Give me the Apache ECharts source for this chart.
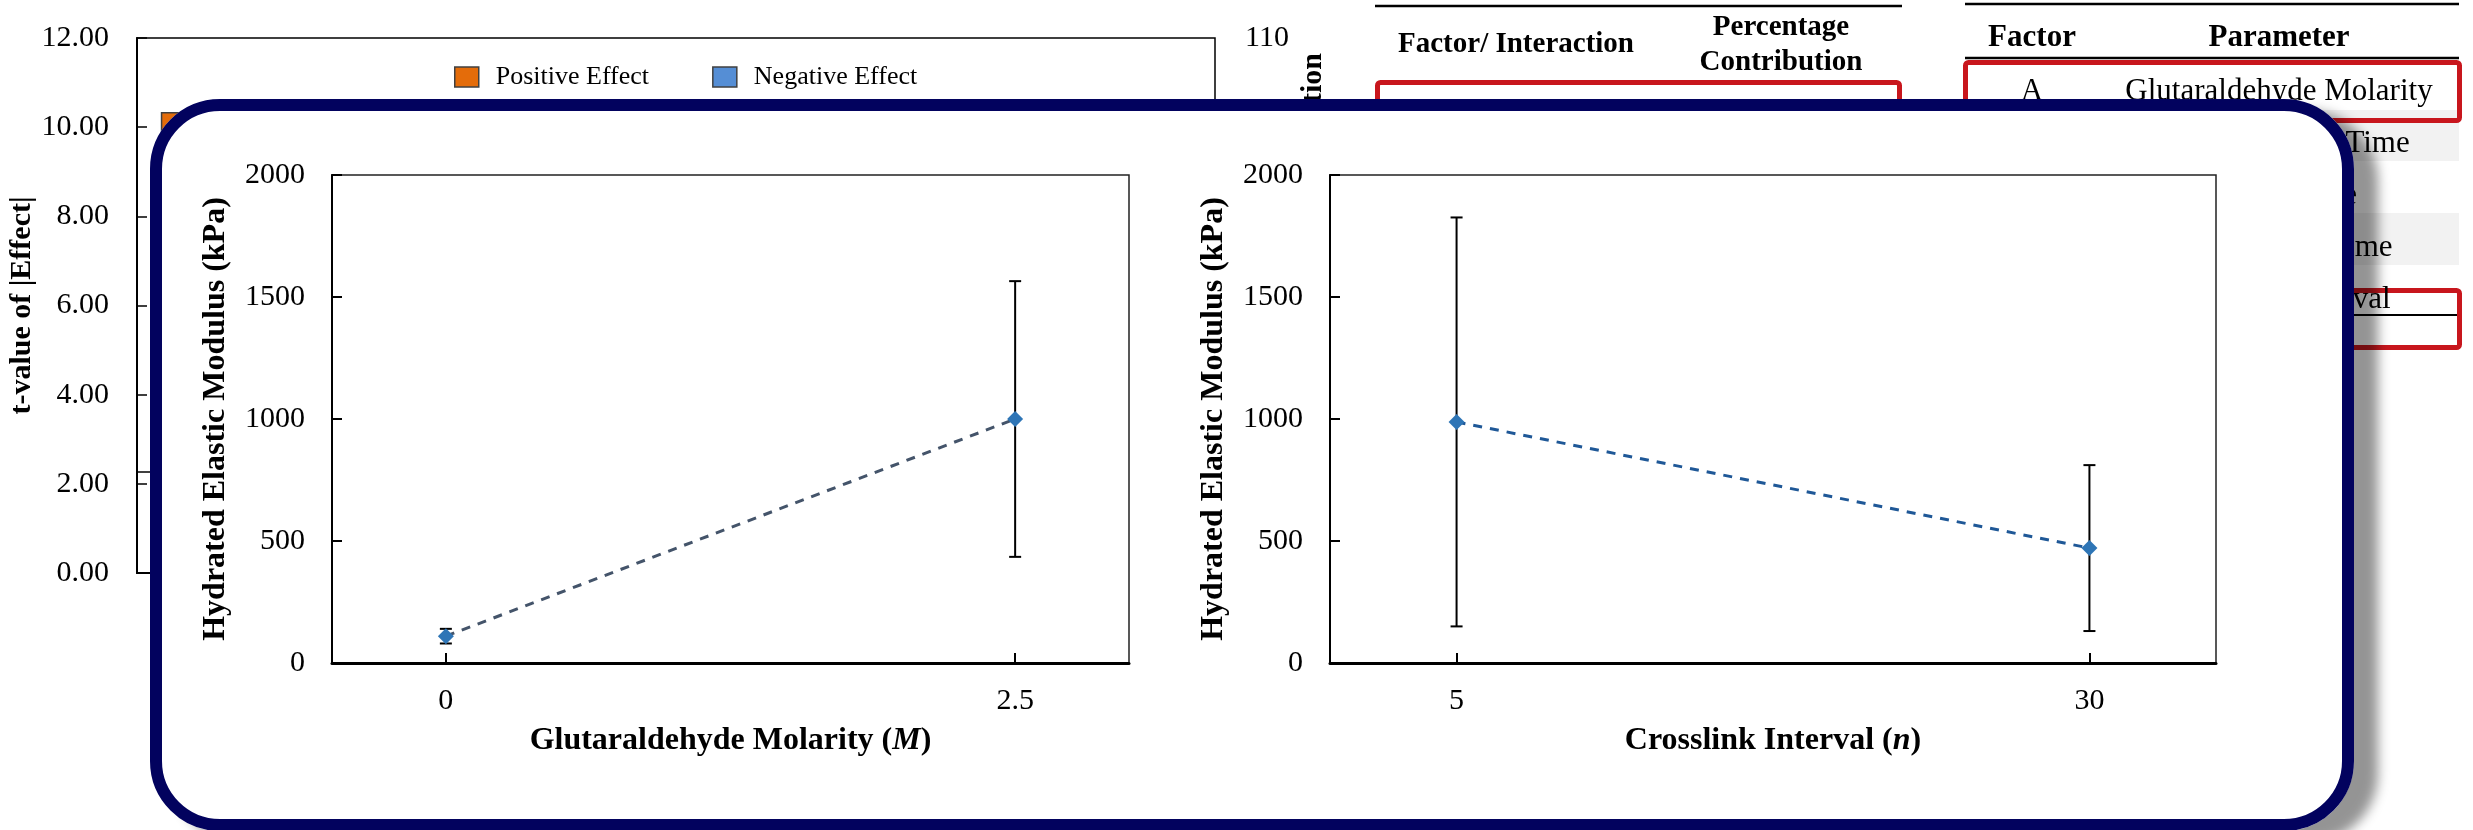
<!DOCTYPE html>
<html>
<head>
<meta charset="utf-8">
<script src="https://cdn.jsdelivr.net/npm/echarts@6/dist/echarts.min.js"></script>
<style>
html, body { margin: 0; padding: 0; background: #fff; }
#chart { width: 2473px; height: 830px; }
</style>
</head>
<body>
<div id="chart"></div>
<script>
// ---------- background: t-value pareto (mostly covered) ----------
const factors = ['A', 'B', 'C', 'D', 'E'];
const positiveEffect = [10.34, null, null, null, null];
const negativeEffect = [null, null, null, null, null];
const tCritical = 2.26;

// ---------- background tables ----------
const factorLetters = ['A', 'B', 'C', 'D', 'E'];
const parameterNames = ['Glutaraldehyde Molarity', 'Polymerization Time', 'Temperature', 'Dehydration Time', 'Crosslink Interval'];

// ---------- front panel: main effect plots ----------
const molarity = [0, 2.5];
const molarityModulus = [110, 1000];
const molarityErr = [30, 565];
const molarityTicks = [0, 2.5];

const crosslinkInterval = [5, 30];
const intervalModulus = [988, 471];
const intervalErr = [838, 340];
const intervalTicks = [5, 30];

const FONT = "'Liberation Serif', 'Times New Roman', serif";
const myChart = echarts.init(document.getElementById('chart'));

// 误差棒
function errorBar(color) {
    return function (params, api) {
        const x = api.value(0), y = api.value(1), e = api.value(2);
        const top = api.coord([x, y + e]);
        const bot = api.coord([x, y - e]);
        const st = { stroke: color, lineWidth: 2 };
        return {
            type: 'group',
            children: [
                { type: 'line', shape: { x1: top[0], y1: top[1], x2: bot[0], y2: bot[1] }, style: st },
                { type: 'line', shape: { x1: top[0] - 6, y1: top[1], x2: top[0] + 6, y2: top[1] }, style: st },
                { type: 'line', shape: { x1: bot[0] - 6, y1: bot[1], x2: bot[0] + 6, y2: bot[1] }, style: st }
            ]
        };
    };
}

function txt(text, x, y, size, bold, align) {
    return {
        type: 'text', x: x, y: y, zlevel: 0,
        style: {
            text: text, fill: '#000',
            font: (bold ? 'bold ' : '') + size + 'px ' + FONT,
            textAlign: align || 'center', textVerticalAlign: 'middle', verticalAlign: 'middle'
        }
    };
}
function hline(x1, x2, y, w) {
    return { type: 'line', zlevel: 0, shape: { x1: x1, y1: y, x2: x2, y2: y }, style: { stroke: '#000', lineWidth: w } };
}

const tableRowsY = [92, 144, 196, 248, 300];
const graphics = [
    // table 1 header
    hline(1375, 1902, 6, 2.5),
    txt('Factor/ Interaction', 1516, 45, 29, true),
    txt('Percentage', 1781, 28, 29, true),
    txt('Contribution', 1781, 63, 29, true),
    { type: 'rect', zlevel: 0, shape: { x: 1377.5, y: 82.5, width: 522, height: 400, r: 3 },
      style: { fill: 'none', stroke: '#C8161D', lineWidth: 5 } },
    // table 2
    { type: 'rect', zlevel: 0, shape: { x: 1965, y: 110, width: 494, height: 51 }, style: { fill: '#F2F2F2' } },
    { type: 'rect', zlevel: 0, shape: { x: 1965, y: 213, width: 494, height: 52 }, style: { fill: '#F2F2F2' } },
    hline(1965, 2459, 4, 2.5),
    txt('Factor', 2032, 38, 31, true),
    txt('Parameter', 2279, 38, 31, true),
    hline(1965, 2459, 58, 2.5),
    hline(1965, 2457, 315, 2),
    { type: 'rect', zlevel: 0, shape: { x: 1965.5, y: 62.5, width: 494, height: 58, r: 3 },
      style: { fill: 'none', stroke: '#C8161D', lineWidth: 5 } },
    { type: 'rect', zlevel: 0, shape: { x: 1965.5, y: 290.5, width: 494, height: 57, r: 3 },
      style: { fill: 'none', stroke: '#C8161D', lineWidth: 5 } },
    // right axis title of background chart
    { type: 'text', zlevel: 0, x: 1313, y: 53, rotation: Math.PI / 2,
      style: { text: 'Percentage Contribution', fill: '#000', font: 'bold 30px ' + FONT,
               textAlign: 'right', textVerticalAlign: 'middle', verticalAlign: 'middle' } },
    // overlay panel: white body with a translucent drop shadow, then the navy frame
    { type: 'rect', zlevel: 1, z: 1, shape: { x: 150, y: 99, width: 2204, height: 732, r: 70 },
      style: { fill: '#fff', shadowBlur: 12, shadowColor: 'rgba(0,0,0,0.42)', shadowOffsetX: 24, shadowOffsetY: 12 } },
    { type: 'rect', zlevel: 1, z: 2, shape: { x: 156, y: 105, width: 2192, height: 720, r: 64 },
      style: { fill: 'none', stroke: '#02025E', lineWidth: 12 } }
];
factorLetters.forEach((f, i) => graphics.push(txt(f, 2032, tableRowsY[i], 31, false)));
parameterNames.forEach((p, i) => graphics.push(txt(p, 2279, tableRowsY[i], 31, false)));

const labelStyle = { color: '#000', fontSize: 30, fontFamily: FONT };
const nameStyle = { color: '#000', fontSize: 32, fontWeight: 'bold', fontFamily: FONT,
    rich: { it: { fontStyle: 'italic', fontWeight: 'bold', fontSize: 32, fontFamily: FONT, color: '#000' } } };

function innerY(gridIndex) {
    return {
        type: 'value', gridIndex: gridIndex, zlevel: 2, min: 0, max: 2000, interval: 500,
        name: 'Hydrated Elastic Modulus (kPa)', nameLocation: 'middle', nameGap: 100,
        nameTextStyle: nameStyle,
        axisLine: { show: true, onZero: false, lineStyle: { color: '#000', width: 2 } },
        axisTick: { show: true, inside: true, length: 10, lineStyle: { color: '#000', width: 2 } },
        axisLabel: Object.assign({ margin: 27, formatter: v => String(v) }, labelStyle),
        splitLine: { show: false }
    };
}
function innerX(gridIndex, min, max, ticks, name) {
    return {
        type: 'value', gridIndex: gridIndex, zlevel: 2, min: min, max: max,
        name: name, nameLocation: 'middle', nameGap: 62, nameTextStyle: nameStyle,
        axisLine: { show: true, onZero: false, lineStyle: { color: '#000', width: 3 } },
        axisTick: { show: true, inside: true, length: 10, customValues: ticks, lineStyle: { color: '#000', width: 2 } },
        axisLabel: Object.assign({ margin: 23, customValues: ticks, formatter: v => String(v) }, labelStyle),
        splitLine: { show: false }
    };
}

const option = {
    backgroundColor: '#fff',
    animation: false,
    textStyle: { fontFamily: FONT },
    legend: {
        zlevel: 0, left: 449, top: 59, itemWidth: 24, itemHeight: 20, itemGap: 63, icon: 'rect',
        data: ['Positive Effect', 'Negative Effect'],
        itemStyle: { borderColor: '#404040', borderWidth: 1.5 },
        textStyle: { color: '#000', fontSize: 26, fontFamily: FONT, padding: [0, 0, 0, 12] }
    },
    grid: [
        { left: 137, top: 38, right: 1258, bottom: 257, show: true, borderColor: '#000', borderWidth: 1.5, zlevel: 0 },
        { left: 332, top: 175, right: 1344, bottom: 167, show: true, borderColor: '#222', borderWidth: 1.5, zlevel: 2 },
        { left: 1330, top: 175, right: 257, bottom: 167, show: true, borderColor: '#222', borderWidth: 1.5, zlevel: 2 }
    ],
    xAxis: [
        { type: 'category', gridIndex: 0, zlevel: 0, data: factors,
          axisLine: { lineStyle: { color: '#000', width: 2 } }, axisTick: { show: false },
          axisLabel: labelStyle },
        innerX(1, -0.5, 3, molarityTicks, 'Glutaraldehyde Molarity ({it|M})'),
        innerX(2, 0, 35, intervalTicks, 'Crosslink Interval ({it|n})')
    ],
    yAxis: [
        { type: 'value', gridIndex: 0, zlevel: 0, min: 0, max: 12, interval: 2,
          name: 't-value of |Effect|', nameLocation: 'middle', nameGap: 87,
          nameTextStyle: { color: '#000', fontSize: 30, fontWeight: 'bold', fontFamily: FONT },
          axisLine: { show: true, lineStyle: { color: '#000', width: 2 } },
          axisTick: { show: true, inside: true, length: 10, lineStyle: { color: '#000', width: 1.5 } },
          axisLabel: Object.assign({ margin: 28, formatter: v => v.toFixed(2) }, labelStyle),
          splitLine: { show: false } },
        { type: 'value', gridIndex: 0, zlevel: 0, position: 'right', min: 0, max: 110, interval: 22,
          axisLine: { show: false }, axisTick: { show: false },
          axisLabel: Object.assign({ margin: 30 }, labelStyle),
          splitLine: { show: false } },
        innerY(1),
        innerY(2)
    ],
    series: [
        { name: 'Positive Effect', type: 'bar', xAxisIndex: 0, yAxisIndex: 0, zlevel: 0,
          data: positiveEffect, barWidth: 168, barGap: '-100%',
          itemStyle: { color: '#E46C0A', borderColor: '#404040', borderWidth: 1.5 },
          markLine: { silent: true, symbol: 'none', label: { show: false },
                      lineStyle: { color: '#000', width: 1.5, type: 'solid' },
                      data: [{ yAxis: tCritical }] } },
        { name: 'Negative Effect', type: 'bar', xAxisIndex: 0, yAxisIndex: 0, zlevel: 0,
          data: negativeEffect, barWidth: 168,
          itemStyle: { color: '#558ED5', borderColor: '#404040', borderWidth: 1.5 } },
        // 左图
        { type: 'custom', xAxisIndex: 1, yAxisIndex: 2, zlevel: 2, z: 1,
          renderItem: errorBar('#000'), encode: { x: 0, y: 1 },
          data: molarity.map((m, i) => [m, molarityModulus[i], molarityErr[i]]) },
        { type: 'line', xAxisIndex: 1, yAxisIndex: 2, zlevel: 2, z: 3,
          data: molarity.map((m, i) => [m, molarityModulus[i]]),
          symbol: 'diamond', symbolSize: 16,
          itemStyle: { color: '#2E75B6' },
          lineStyle: { color: '#44546A', width: 3, type: [9, 8] } },
        // 右图
        { type: 'custom', xAxisIndex: 2, yAxisIndex: 3, zlevel: 2, z: 1,
          renderItem: errorBar('#000'), encode: { x: 0, y: 1 },
          data: crosslinkInterval.map((c, i) => [c, intervalModulus[i], intervalErr[i]]) },
        { type: 'line', xAxisIndex: 2, yAxisIndex: 3, zlevel: 2, z: 3,
          data: crosslinkInterval.map((c, i) => [c, intervalModulus[i]]),
          symbol: 'diamond', symbolSize: 16,
          itemStyle: { color: '#2E75B6' },
          lineStyle: { color: '#1F5897', width: 3, type: [9, 8] } }
    ],
    graphic: graphics
};
myChart.setOption(option);
</script>
</body>
</html>
